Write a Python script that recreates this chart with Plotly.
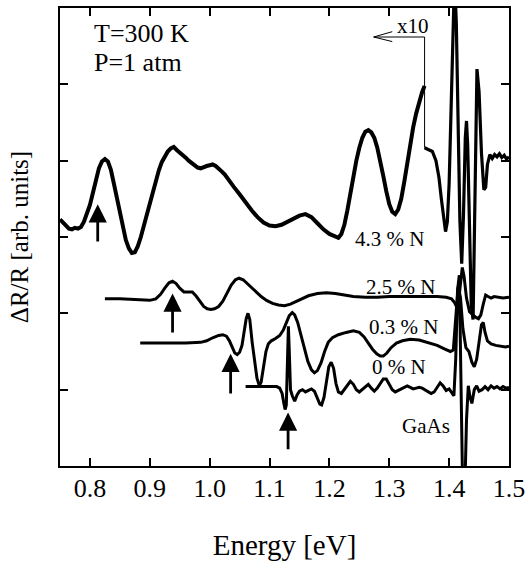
import plotly.graph_objects as go

# ---------------- data (Energy in eV, dR/R in arbitrary units, curves offset) ----------------
# 4.3 % N, part magnified x10 (below 1.36 eV)
x43a = [0.750, 0.755, 0.760, 0.765, 0.770, 0.775, 0.780, 0.785, 0.790, 0.795, 0.800, 0.805,
        0.810, 0.815, 0.820, 0.825, 0.830, 0.835, 0.840, 0.845, 0.850, 0.855, 0.860, 0.865,
        0.870, 0.875, 0.880, 0.885, 0.890, 0.895, 0.900, 0.905, 0.910, 0.915, 0.920, 0.925,
        0.930, 0.935, 0.940, 0.945, 0.950, 0.955, 0.960, 0.965, 0.970, 0.975, 0.980, 0.985,
        0.990, 0.995, 1.000, 1.005, 1.010, 1.015, 1.020, 1.025, 1.030, 1.040, 1.050, 1.060,
        1.070, 1.080, 1.090, 1.100, 1.110, 1.120, 1.130, 1.140, 1.150, 1.160, 1.170, 1.180,
        1.190, 1.200, 1.210, 1.215, 1.220, 1.225, 1.230, 1.235, 1.240, 1.245, 1.250, 1.255,
        1.260, 1.265, 1.270, 1.275, 1.280, 1.285, 1.290, 1.295, 1.300, 1.305, 1.310, 1.315,
        1.320, 1.325, 1.330, 1.335, 1.340, 1.345, 1.350, 1.355, 1.359]
y43a = [3.23, 3.19, 3.14, 3.11, 3.10, 3.12, 3.11, 3.13, 3.20, 3.30, 3.42, 3.58,
        3.75, 3.90, 3.99, 4.02, 3.99, 3.88, 3.70, 3.50, 3.30, 3.12, 2.96, 2.85,
        2.79, 2.80, 2.88, 3.00, 3.15, 3.30, 3.45, 3.60, 3.74, 3.87, 3.98, 4.06,
        4.12, 4.16, 4.18, 4.14, 4.11, 4.08, 4.04, 4.00, 3.97, 3.93, 3.91, 3.90,
        3.92, 3.93, 3.94, 3.95, 3.93, 3.90, 3.86, 3.82, 3.76, 3.66, 3.56, 3.45,
        3.35, 3.26, 3.19, 3.15, 3.14, 3.16, 3.20, 3.24, 3.28, 3.30, 3.26, 3.18,
        3.10, 3.04, 3.00, 2.99, 3.04, 3.16, 3.35, 3.58, 3.80, 4.00, 4.17, 4.30,
        4.38, 4.40, 4.37, 4.30, 4.17, 4.00, 3.80, 3.60, 3.43, 3.33, 3.30, 3.36,
        3.50, 3.72, 3.98, 4.22, 4.44, 4.62, 4.78, 4.90, 4.98]
# 4.3 % N, unmagnified part (above 1.36 eV)
x43b = [1.359, 1.365, 1.372, 1.378, 1.383, 1.387, 1.391, 1.394, 1.397, 1.400, 1.403, 1.406,
        1.409, 1.412, 1.415, 1.418, 1.421, 1.424, 1.427, 1.429, 1.431, 1.434, 1.437, 1.440,
        1.443, 1.4465, 1.450, 1.454, 1.458, 1.461, 1.464, 1.468, 1.472, 1.476, 1.480, 1.484,
        1.488, 1.492, 1.496, 1.500]
y43b = [4.17, 4.15, 4.12, 4.00, 3.78, 3.50, 3.20, 3.07, 3.20, 3.70, 4.60, 5.60,
        6.40, 5.80, 4.50, 3.20, 2.65, 3.30, 4.30, 4.52, 4.20, 3.00, 2.10, 1.92,
        3.30, 5.20, 4.90, 4.10, 3.62, 3.65, 3.95, 4.08, 4.03, 4.08, 4.05, 4.09,
        4.04, 4.07, 4.02, 4.05]

x25 = [0.825, 0.850, 0.875, 0.900, 0.910, 0.918, 0.925, 0.932, 0.938, 0.944, 0.950, 0.957,
       0.964, 0.971, 0.977, 0.983, 0.990, 0.996, 1.002, 1.008, 1.015, 1.022, 1.029, 1.036,
       1.043, 1.049, 1.056, 1.063, 1.070, 1.078, 1.086, 1.095, 1.105, 1.115, 1.125, 1.135,
       1.145, 1.155, 1.165, 1.180, 1.195, 1.210, 1.225, 1.240, 1.260, 1.280, 1.300, 1.320,
       1.340, 1.360, 1.380, 1.395, 1.404, 1.409, 1.413, 1.417, 1.420, 1.422, 1.425, 1.429,
       1.434, 1.439, 1.444, 1.449, 1.453, 1.457, 1.461, 1.465, 1.470, 1.475, 1.480, 1.490,
       1.500]
y25 = [2.19, 2.19, 2.18, 2.17, 2.19, 2.25, 2.33, 2.40, 2.42, 2.39, 2.33, 2.28,
       2.28, 2.28, 2.23, 2.16, 2.09, 2.06, 2.05, 2.06, 2.09, 2.16, 2.27, 2.37,
       2.44, 2.46, 2.44, 2.39, 2.34, 2.28, 2.22, 2.17, 2.13, 2.11, 2.10, 2.12,
       2.16, 2.20, 2.23, 2.26, 2.27, 2.26, 2.24, 2.22, 2.21, 2.21, 2.22, 2.22,
       2.22, 2.22, 2.22, 2.21, 2.19, 2.14, 2.08, 2.25, 2.52, 2.60, 2.48, 2.20,
       2.02, 1.98, 1.95, 1.93, 1.98, 2.12, 2.24, 2.22, 2.20, 2.22, 2.21, 2.20,
       2.21]

x03 = [0.884, 0.920, 0.960, 0.985, 0.995, 1.005, 1.015, 1.022, 1.028, 1.033, 1.038, 1.042,
       1.046, 1.050, 1.054, 1.058, 1.061, 1.064, 1.067, 1.071, 1.075, 1.079, 1.083, 1.086,
       1.090, 1.094, 1.098, 1.103, 1.110, 1.117, 1.123, 1.128, 1.133, 1.138, 1.142, 1.147,
       1.152, 1.158, 1.164, 1.170, 1.175, 1.180, 1.186, 1.192, 1.198, 1.205, 1.215, 1.228,
       1.240, 1.250, 1.258, 1.265, 1.272, 1.279, 1.285, 1.290, 1.296, 1.303, 1.312, 1.322,
       1.335, 1.350, 1.365, 1.380, 1.393, 1.402, 1.407, 1.411, 1.415, 1.419, 1.423, 1.428,
       1.433, 1.438, 1.442, 1.446, 1.450, 1.454, 1.457, 1.460, 1.464, 1.470, 1.478, 1.486,
       1.494, 1.500]
y03 = [1.61, 1.61, 1.61, 1.62, 1.64, 1.68, 1.71, 1.72, 1.70, 1.64, 1.55, 1.48,
       1.46, 1.49, 1.58, 1.78, 1.93, 2.00, 1.92, 1.62, 1.35, 1.15, 1.05, 1.10,
       1.30, 1.50, 1.60, 1.64, 1.67, 1.71, 1.78, 1.88, 1.97, 2.01, 1.98, 1.88,
       1.72, 1.53, 1.37, 1.26, 1.22, 1.25, 1.35, 1.50, 1.62, 1.68, 1.72, 1.75,
       1.77, 1.75, 1.69, 1.61, 1.53, 1.47, 1.44, 1.44, 1.48, 1.55, 1.61, 1.64,
       1.66, 1.65, 1.62, 1.58, 1.53, 1.50, 1.52, 1.90, 2.35, 2.20, 1.80, 1.55,
       1.50, 1.36, 1.30, 1.40, 1.65, 1.85, 1.88, 1.75, 1.64, 1.60, 1.58, 1.57,
       1.56, 1.57]

x00 = [1.060, 1.080, 1.100, 1.112, 1.117, 1.121, 1.124, 1.126, 1.128, 1.130, 1.1315, 1.133,
       1.135, 1.138, 1.142, 1.146, 1.150, 1.155, 1.160, 1.165, 1.170, 1.175, 1.180, 1.184,
       1.187, 1.191, 1.195, 1.199, 1.203, 1.207, 1.211, 1.215, 1.220, 1.225, 1.230, 1.235,
       1.240, 1.245, 1.250, 1.255, 1.260, 1.265, 1.270, 1.275, 1.280, 1.285, 1.290, 1.295,
       1.300, 1.305, 1.310, 1.315, 1.320, 1.325, 1.330, 1.335, 1.340, 1.345, 1.350, 1.355,
       1.360, 1.365, 1.370, 1.375, 1.380, 1.385, 1.390, 1.395, 1.400, 1.404, 1.408, 1.411,
       1.414, 1.417, 1.420, 1.423, 1.426, 1.429, 1.432, 1.435, 1.438, 1.442, 1.446, 1.450,
       1.455, 1.460, 1.465, 1.470, 1.475, 1.480, 1.485, 1.490, 1.495, 1.500]
y00 = [1.04, 1.04, 1.04, 1.04, 1.02, 0.95, 0.82, 0.74, 0.80, 1.30, 1.83, 1.50,
       1.00, 0.92, 0.85, 0.93, 0.98, 1.00, 0.97, 0.99, 1.01, 0.98, 0.88, 0.81,
       0.80, 0.90, 1.10, 1.30, 1.36, 1.28, 1.08, 0.97, 0.95, 1.00, 1.06, 1.11,
       1.07, 1.00, 0.97, 1.00, 1.04, 1.07, 1.02, 0.98, 1.02, 1.08, 1.14, 1.14,
       1.07, 1.00, 0.97, 0.99, 1.01, 1.03, 1.05, 1.03, 1.01, 1.02, 1.03, 1.02,
       1.00, 0.97, 0.95, 0.97, 1.03, 1.09, 1.05, 0.99, 1.01, 0.97, 0.92, 1.40,
       2.30, 2.50, 1.00, -0.50, -0.40, 0.60, 1.05, 0.90, 0.82, 1.00, 1.05, 0.98,
       1.00, 1.04, 1.00, 1.05, 1.02, 1.04, 1.01, 1.04, 1.02, 1.03]

# arrows marking the band-gap transitions
arrow_x = [0.813, 0.938, 1.035, 1.131]
arrow_tail = [2.92, 1.73, 0.93, 0.20]
arrow_tip = [3.43, 2.26, 1.47, 0.70]

# "x10" magnification marker
x10_line_x = [1.359, 1.359, 1.274]
x10_line_y = [4.17, 5.62, 5.62]
x10_head_x = [1.305, 1.274, 1.305]
x10_head_y = [5.69, 5.62, 5.56]

# curve labels
label_text = ["4.3 % N", "2.5 % N", "0.3 % N", "0 % N", "GaAs"]
label_x = [1.24, 1.258, 1.262, 1.267, 1.318]
label_y = [2.97, 2.34, 1.82, 1.30, 0.52]

x_ticks = [0.8, 0.9, 1.0, 1.1, 1.2, 1.3, 1.4, 1.5]
x_ticktext = ["0.8", "0.9", "1.0", "1.1", "1.2", "1.3", "1.4", "1.5"]
y_ticks = [1, 2, 3, 4, 5]

FONT = "Liberation Serif"

fig = go.Figure()
line_kw = dict(mode="lines", showlegend=False, hoverinfo="skip")
fig.add_trace(go.Scatter(x=x43a, y=y43a, line=dict(color="black", width=4), **line_kw))
fig.add_trace(go.Scatter(x=x43b, y=y43b, line=dict(color="black", width=3.2), **line_kw))
fig.add_trace(go.Scatter(x=x25, y=y25, line=dict(color="black", width=3), **line_kw))
fig.add_trace(go.Scatter(x=x03, y=y03, line=dict(color="black", width=3), **line_kw))
fig.add_trace(go.Scatter(x=x00, y=y00, line=dict(color="black", width=3), **line_kw))
fig.add_trace(go.Scatter(x=x10_line_x, y=x10_line_y, line=dict(color="black", width=1), **line_kw))
fig.add_trace(go.Scatter(x=x10_head_x, y=x10_head_y, line=dict(color="black", width=1), **line_kw))

annotations = []
for ax_, t_, h_ in zip(arrow_x, arrow_tail, arrow_tip):
    annotations.append(dict(x=ax_, y=h_, ax=ax_, ay=t_, xref="x", yref="y", axref="x", ayref="y",
                            showarrow=True, arrowhead=2, arrowsize=1.3, arrowwidth=2.8,
                            arrowcolor="black", text="", standoff=0, startstandoff=0))
for t, lx, ly in zip(label_text, label_x, label_y):
    annotations.append(dict(x=lx, y=ly, xref="x", yref="y", text=t, showarrow=False,
                            xanchor="left", yanchor="middle",
                            font=dict(family=FONT, size=21, color="black")))
annotations.append(dict(x=1.31, y=5.77, xref="x", yref="y", text="x10", showarrow=False,
                        xanchor="left", yanchor="middle",
                        font=dict(family=FONT, size=21, color="black")))
annotations.append(dict(x=0.803, y=5.67, xref="x", yref="y", text="T=300 K", showarrow=False,
                        xanchor="left", yanchor="middle",
                        font=dict(family=FONT, size=26, color="black")))
annotations.append(dict(x=0.803, y=5.28, xref="x", yref="y", text="P=1 atm", showarrow=False,
                        xanchor="left", yanchor="middle",
                        font=dict(family=FONT, size=26, color="black")))

axis_common = dict(showline=True, linewidth=2, linecolor="black", mirror="ticks",
                   ticks="inside", ticklen=8, tickwidth=1.5, tickcolor="black",
                   showgrid=False, zeroline=False, automargin=False)

fig.update_layout(
    width=527, height=578,
    margin=dict(l=60, r=18, t=8, b=112, autoexpand=False),
    paper_bgcolor="white", plot_bgcolor="white",
    font=dict(family=FONT, color="black"),
    annotations=annotations,
    xaxis=dict(range=[0.75, 1.5], tickvals=x_ticks, ticktext=x_ticktext,
               tickfont=dict(family=FONT, size=26), ticklabelstandoff=-2,
               ticklabeloverflow="allow",
               title=dict(text="Energy [eV]", font=dict(family=FONT, size=29), standoff=32),
               **axis_common),
    yaxis=dict(range=[0, 6], tickvals=y_ticks, showticklabels=False,
               title=dict(text="ΔR/R [arb. units]", font=dict(family=FONT, size=25), standoff=22),
               **axis_common),
)

fig.write_html(
    "out.html",
    config={"displayModeBar": False},
    post_script=("document.body.style.margin='0px';"
                 "document.body.style.overflow='hidden';"
                 "document.documentElement.style.overflow='hidden';"),
)
